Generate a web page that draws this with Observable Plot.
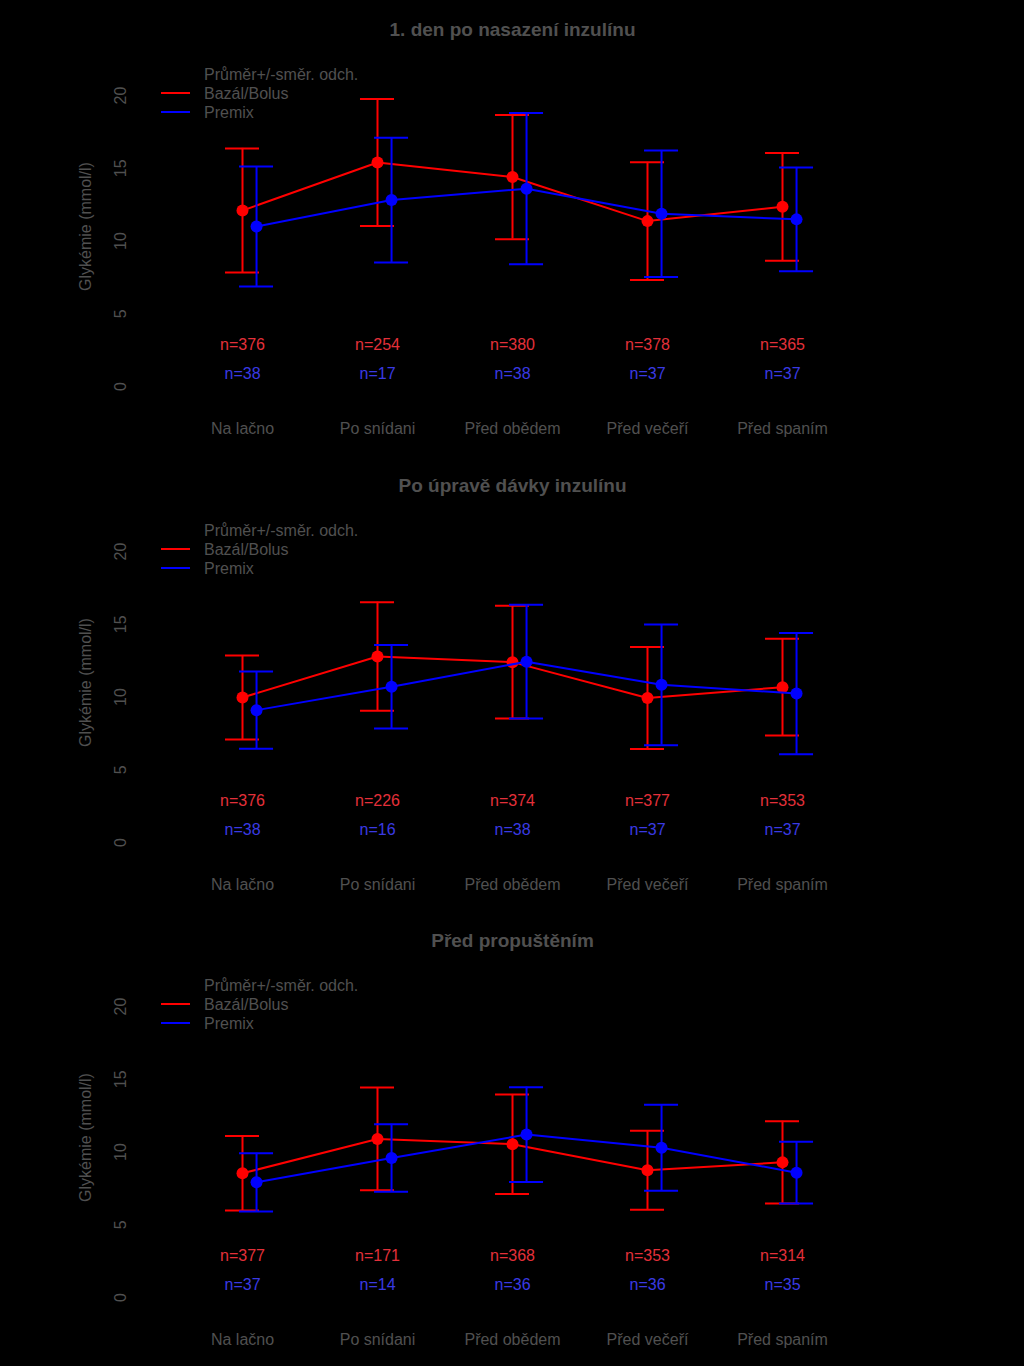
<!DOCTYPE html>
<html>
<head>
<meta charset="utf-8">
<script src="https://cdn.jsdelivr.net/npm/d3@7"></script>
<script src="https://cdn.jsdelivr.net/npm/@observablehq/plot@0.6"></script>
<style>
html, body { margin: 0; padding: 0; background: #000; }
#chart svg { display: block; }
</style>
</head>
<body>
<div id="chart"></div>
<script>
// ---- data ----
const categories = ["Na lačno", "Po snídani", "Před obědem", "Před večeří", "Před spaním"];
const titles = ["1. den po nasazení inzulínu", "Po úpravě dávky inzulínu", "Před propuštěním"];
const seriesNames = ["Bazál/Bolus", "Premix"];
const legendTitle = "Průměr+/-směr. odch.";
const yLabel = "Glykémie (mmol/l)";
const yTicks = [0, 5, 10, 15, 20];

// Bazál/Bolus (red): mean, SD, n per panel
const bbMean1 = [12.1, 15.4, 14.4, 11.37, 12.35];
const bbSd1   = [4.27, 4.37, 4.27, 4.04, 3.70];
const bbN1    = [376, 254, 380, 378, 365];
const bbMean2 = [9.97, 12.79, 12.4, 9.93, 10.68];
const bbSd2   = [2.89, 3.73, 3.88, 3.51, 3.33];
const bbN2    = [376, 226, 374, 377, 353];
const bbMean3 = [8.54, 10.9, 10.54, 8.75, 9.29];
const bbSd3   = [2.56, 3.53, 3.42, 2.71, 2.83];
const bbN3    = [377, 171, 368, 353, 314];

// Premix (blue): mean, SD, n per panel
const pmMean1 = [11.0, 12.82, 13.6, 11.88, 11.49];
const pmSd1   = [4.12, 4.29, 5.2, 4.35, 3.57];
const pmN1    = [38, 17, 38, 37, 37];
const pmMean2 = [9.1, 10.71, 12.43, 10.84, 10.24];
const pmSd2   = [2.66, 2.87, 3.91, 4.15, 4.17];
const pmN2    = [38, 16, 38, 37, 37];
const pmMean3 = [7.92, 9.59, 11.2, 10.3, 8.58];
const pmSd3   = [2.0, 2.32, 3.26, 2.96, 2.12];
const pmN3    = [37, 14, 36, 36, 35];

const panels = [
  {title: titles[0], bb: [bbMean1, bbSd1, bbN1], pm: [pmMean1, pmSd1, pmN1], extra: 1},
  {title: titles[1], bb: [bbMean2, bbSd2, bbN2], pm: [pmMean2, pmSd2, pmN2], extra: 0},
  {title: titles[2], bb: [bbMean3, bbSd3, bbN3], pm: [pmMean3, pmSd3, pmN3], extra: 0}
];

// ---- style ----
const RED = "#ff0000", BLUE = "#0000ff";
const RED_TXT = "#e3303a", BLUE_TXT = "#3a3ae3";
const GRAY = "#505050";
const FONT = "'Liberation Sans', Arial, sans-serif";
const DODGE = 0.104;   // Premix drawn slightly right of the category
const CAP = 0.126;     // half width of error bar caps (category units)

function rows([means, sds, ns], off) {
  return categories.map((c, i) => ({
    cat: c, idx: i + 1, x: i + 1 + off,
    mean: means[i], lo: means[i] - sds[i], hi: means[i] + sds[i], n: ns[i]
  }));
}

function seriesMarks(data, color) {
  return [
    Plot.ruleX(data, {x: "x", y1: "lo", y2: "hi", stroke: color, strokeWidth: 2}),
    Plot.ruleY(data, {y: "hi", x1: d => d.x - CAP, x2: d => d.x + CAP, stroke: color, strokeWidth: 2}),
    Plot.ruleY(data, {y: "lo", x1: d => d.x - CAP, x2: d => d.x + CAP, stroke: color, strokeWidth: 2}),
    Plot.line(data, {x: "x", y: "mean", stroke: color, strokeWidth: 2}),
    Plot.dot(data, {x: "x", y: "mean", r: 6, fill: color, stroke: "none"})
  ];
}

const chart = document.getElementById("chart");
const TXT = {textAnchor: "middle", lineAnchor: "middle"};

panels.forEach(p => {
  const red = rows(p.bb, 0);
  const blue = rows(p.pm, DODGE);
  const mb = 69 + p.extra;
  const svg = Plot.plot({
    width: 1024,
    height: 455 + p.extra,
    marginTop: 66,
    marginBottom: mb,
    marginLeft: 134,
    marginRight: 134,
    x: {type: "linear", domain: [0.2, 5.8], axis: null},
    y: {domain: [0, 22], axis: null},
    style: {background: "#000", fontFamily: FONT, overflow: "visible"},
    marks: [
      Plot.text([p.title], {...TXT, text: d => d, frameAnchor: "top", dy: -36.5, fontSize: 19, fontWeight: "bold", fill: GRAY}),
      Plot.text(yTicks, {...TXT, y: d => d, text: d => String(d), frameAnchor: "left", dx: -14, rotate: -90, fontSize: 16, fill: GRAY}),
      Plot.text([yLabel], {...TXT, text: d => d, frameAnchor: "left", dx: -49, rotate: -90, fontSize: 16, fill: GRAY}),
      Plot.text(categories, {...TXT, x: (d, i) => i + 1, text: d => d, frameAnchor: "bottom", dy: 42.5, fontSize: 16, fill: GRAY}),
      Plot.text(red, {...TXT, x: "idx", text: d => "n=" + d.n, frameAnchor: "bottom", dy: -41.5, fontSize: 16, fill: RED_TXT}),
      Plot.text(blue, {...TXT, x: "idx", text: d => "n=" + d.n, frameAnchor: "bottom", dy: -12.5, fontSize: 16, fill: BLUE_TXT}),
      ...seriesMarks(red, RED),
      ...seriesMarks(blue, BLUE)
    ]
  });

  // legend (no box), top-left of the panel
  const s = d3.select(svg);
  const lg = s.append("g").attr("font-family", FONT).attr("font-size", 16)
    .attr("fill", GRAY).attr("text-anchor", "start");
  lg.append("text").attr("x", 204).attr("y", 74).attr("dy", "0.35em").text(legendTitle);
  [[seriesNames[0], RED, 93], [seriesNames[1], BLUE, 112]].forEach(([name, col, yy]) => {
    lg.append("line").attr("x1", 161).attr("x2", 190).attr("y1", yy).attr("y2", yy)
      .attr("stroke", col).attr("stroke-width", 2);
    lg.append("text").attr("x", 204).attr("y", yy).attr("dy", "0.35em").text(name);
  });

  chart.appendChild(svg);
});
</script>
</body>
</html>
